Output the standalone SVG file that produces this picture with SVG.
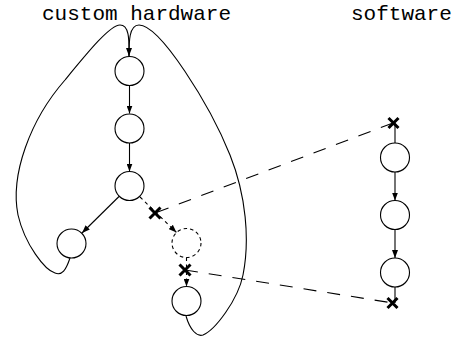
<svg xmlns="http://www.w3.org/2000/svg" width="458" height="337" viewBox="0 0 458 337">
<defs>
<marker id="ah" markerWidth="8" markerHeight="6" refX="8" refY="3" orient="auto" markerUnits="userSpaceOnUse">
<path d="M0,0 L8,3 L0,6 Z" fill="#000"/>
</marker>
<style>
.n{fill:#fff;stroke:#000;stroke-width:1.1}
.nd{fill:#fff;stroke:#000;stroke-width:1.1;stroke-dasharray:3.5,3}
.e{fill:none;stroke:#000;stroke-width:1.1}
.ed{fill:none;stroke:#000;stroke-width:1.1;stroke-dasharray:3.5,3.5}
.ld{fill:none;stroke:#000;stroke-width:1.1;stroke-dasharray:13,11}
.x{stroke:#000;stroke-width:3;fill:none}
.t{font-family:"Liberation Mono","DejaVu Sans Mono",monospace;font-size:21px;fill:#000}
</style>
</defs>
<text class="t" x="42" y="20">custom hardware</text>
<text class="t" x="351" y="20">software</text>
<g id="connectors">
<path class="e" d="M70,258 C66,270 62,276 55,273 C45,270 25,245 18,215 C10,175 30,120 65,80 C88,52 110,25 120,25 C130,25 129,42 129,56" marker-end="url(#ah)"/>
<path class="e" d="M186,316 C190,330 197,337 203,335 C215,330 238,300 243,275 C250,240 246,195 230,155 C210,105 160,25 139,25 C129,25 129,42 129,56"/>
<line class="e" x1="129.5" y1="85.5" x2="129.5" y2="113.5" marker-end="url(#ah)"/>
<line class="e" x1="129.5" y1="143" x2="129.5" y2="171.5" marker-end="url(#ah)"/>
<line class="e" x1="119" y1="196.5" x2="82" y2="233" marker-end="url(#ah)"/>
<line class="ed" x1="140" y1="197" x2="176.5" y2="232.5" marker-end="url(#ah)"/>
<line class="ed" x1="186.5" y1="257.5" x2="186.5" y2="286.5" marker-end="url(#ah)"/>
<line class="e" x1="395" y1="123" x2="395" y2="143"/>
<line class="e" x1="395" y1="171.5" x2="395" y2="200.5" marker-end="url(#ah)"/>
<line class="e" x1="395" y1="229" x2="395" y2="258" marker-end="url(#ah)"/>
<line class="e" x1="395" y1="287" x2="395" y2="303"/>
<line class="ld" x1="393" y1="123" x2="155" y2="213"/>
<line class="ld" x1="185" y1="270" x2="393" y2="303"/>
<path class="x" d="M149.5,207.5 L160.5,218.5 M160.5,207.5 L149.5,218.5"/>
<path class="x" d="M179.5,264.5 L190.5,275.5 M190.5,264.5 L179.5,275.5"/>
<path class="x" d="M388.5,118 L398.5,128 M398.5,118 L388.5,128"/>
<path class="x" d="M387.5,298 L397.5,308 M397.5,298 L387.5,308"/>
</g>
<g id="h1"><circle class="n" cx="129.5" cy="71" r="14.5"/></g>
<g id="h2"><circle class="n" cx="129.5" cy="128.5" r="14.5"/></g>
<g id="h3"><circle class="n" cx="129.5" cy="186" r="14.5"/></g>
<g id="h4"><circle class="n" cx="71.5" cy="243.5" r="14.5"/></g>
<g id="h5"><circle class="nd" cx="186.5" cy="243" r="14.5"/></g>
<g id="h6"><circle class="n" cx="186.5" cy="301" r="14.5"/></g>
<g id="s1"><circle class="n" cx="395" cy="157.5" r="14.5"/></g>
<g id="s2"><circle class="n" cx="395" cy="215" r="14.5"/></g>
<g id="s3"><circle class="n" cx="395" cy="272.5" r="14.5"/></g>
</svg>
